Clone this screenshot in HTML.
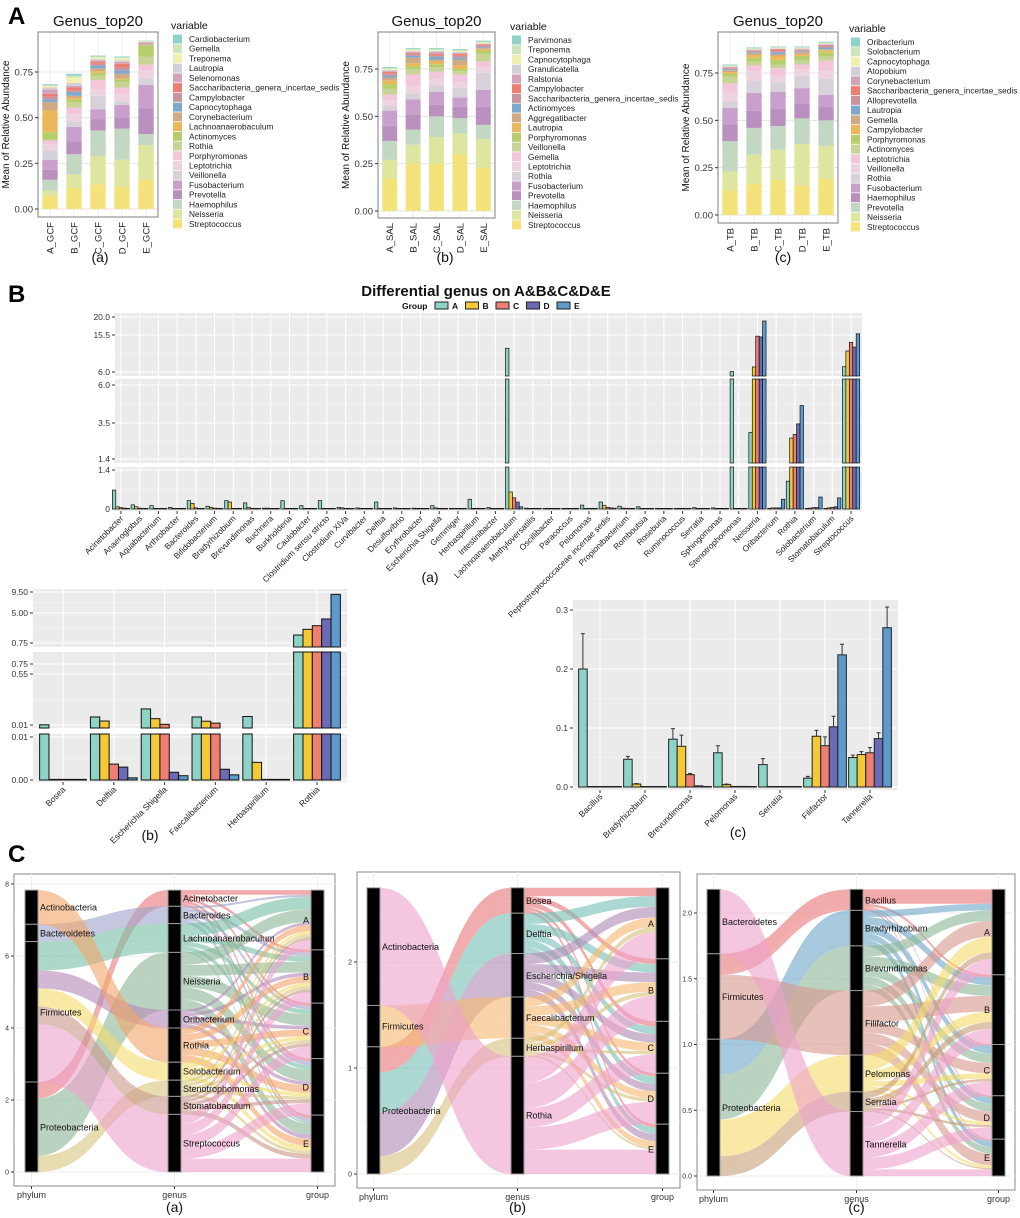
<!DOCTYPE html>
<html><head><meta charset="utf-8"><style>
html,body{margin:0;padding:0;background:#fff;}
svg{display:block;font-family:"Liberation Sans",Arial,sans-serif;}
</style></head><body>
<svg id="fig" width="1020" height="1218" viewBox="0 0 1020 1218" xmlns="http://www.w3.org/2000/svg">
<text x="8" y="24" font-size="24" font-weight="bold">A</text>
<text x="8" y="302" font-size="24" font-weight="bold">B</text>
<text x="8" y="862" font-size="24" font-weight="bold">C</text>
</svg>
<script>
// ---------- Panel A data ----------
const aPalette=['#F4E27A','#DDE59E','#C2D8C2','#B990BE','#C9A0CB','#D7D2DA','#EDD3DF','#F4C6DA','#C8D397','#B5CD6A','#EBB75B','#CFAA85','#7FA8CE','#C8959F','#EC7E74','#D3A3B8','#D3CFD6','#F1F0B0','#CDE5B8','#8FD3C8'];
const aGenera1=['Streptococcus','Neisseria','Haemophilus','Prevotella','Fusobacterium','Veillonella','Leptotrichia','Porphyromonas','Rothia','Actinomyces','Lachnoanaerobaculum','Corynebacterium','Capnocytophaga','Campylobacter','Saccharibacteria_genera_incertae_sedis','Selenomonas','Lautropia','Treponema','Gemella','Cardiobacterium'];
const aGenera2=['Streptococcus','Neisseria','Haemophilus','Prevotella','Fusobacterium','Rothia','Leptotrichia','Gemella','Veillonella','Porphyromonas','Lautropia','Aggregatibacter','Actinomyces','Saccharibacteria_genera_incertae_sedis','Campylobacter','Ralstonia','Granulicatella','Capnocytophaga','Treponema','Parvimonas'];
const aGenera3=['Streptococcus','Neisseria','Prevotella','Haemophilus','Fusobacterium','Rothia','Veillonella','Leptotrichia','Actinomyces','Porphyromonas','Campylobacter','Gemella','Lautropia','Alloprevotella','Saccharibacteria_genera_incertae_sedis','Corynebacterium','Atopobium','Capnocytophaga','Solobacterium','Oribacterium'];
const aSamples1=['A_GCF','B_GCF','C_GCF','D_GCF','E_GCF'];
const aSamples2=['A_SAL','B_SAL','C_SAL','D_SAL','E_SAL'];
const aSamples3=['A_TB','B_TB','C_TB','D_TB','E_TB'];
// cumulative stacked tops (bottom genus first)
const aCum1=[
[.072,.10,.16,.215,.27,.32,.355,.375,.38,.42,.54,.585,.60,.615,.63,.655,.665,.672,.677,.683],
[.115,.19,.30,.37,.45,.48,.52,.555,.585,.60,.61,.62,.64,.65,.665,.675,.69,.72,.73,.74],
[.135,.29,.43,.49,.545,.62,.655,.705,.73,.745,.755,.77,.785,.795,.805,.815,.82,.83,.835,.84],
[.12,.27,.44,.50,.57,.59,.63,.665,.695,.71,.715,.74,.76,.775,.795,.805,.815,.825,.83,.835],
[.16,.35,.41,.55,.68,.715,.76,.79,.835,.895,.897,.90,.902,.905,.908,.913,.915,.917,.92,.922]];
const aCum2=[
[.17,.27,.37,.45,.53,.555,.585,.615,.645,.67,.69,.705,.715,.725,.735,.74,.745,.75,.755,.76],
[.25,.35,.43,.51,.59,.62,.66,.72,.75,.765,.78,.81,.82,.83,.835,.84,.845,.85,.855,.86],
[.25,.39,.50,.56,.63,.665,.70,.735,.76,.775,.79,.80,.815,.82,.83,.84,.845,.85,.855,.86],
[.30,.41,.49,.55,.60,.65,.68,.72,.74,.75,.77,.80,.81,.82,.83,.835,.84,.845,.85,.855],
[.23,.38,.455,.55,.64,.73,.76,.79,.83,.845,.855,.86,.865,.875,.88,.883,.886,.89,.895,.90]];
const aCum3=[
[.13,.23,.39,.48,.565,.60,.65,.695,.73,.745,.755,.765,.77,.775,.778,.782,.785,.788,.79,.795],
[.165,.32,.46,.55,.645,.71,.76,.79,.81,.83,.845,.855,.86,.865,.868,.872,.875,.878,.88,.885],
[.185,.345,.47,.56,.65,.70,.735,.775,.795,.82,.84,.85,.86,.865,.875,.878,.88,.883,.886,.89],
[.155,.375,.51,.59,.67,.735,.77,.795,.815,.84,.85,.86,.865,.87,.873,.876,.88,.883,.886,.89],
[.19,.365,.50,.57,.635,.72,.76,.815,.84,.86,.87,.875,.885,.89,.895,.90,.903,.906,.91,.915]];
const aTicks=[0,0.25,0.5,0.75];
const aTickLabels=['0.00','0.25','0.50','0.75'];

// ---------- Panel B data ----------
const bGroups=['A','B','C','D','E'];
const bColors=['#8DD3C7','#F5C935','#EF7F71','#6B6BB5','#5C9BCB'];
const bCats=['Acinetobacter','Anaeroglobus','Aquabacterium','Arthrobacter','Bacteroides','Bifidobacterium','Bradyrhizobium','Brevundimonas','Buchnera','Burkholderia','Caulobacter','Clostridium sensu stricto','Clostridium XIVa','Curvibacter','Delftia','Desulfovibrio','Erythrobacter','Escherichia Shigella','Gemmiger','Herbaspirillum','Intestinibacter','Lachnoanaerobaculum','Methyloversatilis','Oscillibacter','Paracoccus','Pelomonas','Peptostreptococcaceae incertae sedis','Propionibacterium','Romboutsia','Roseburia','Ruminococcus','Serratia','Sphingomonas','Stenotrophomonas','Neisseria','Oribacterium','Rothia','Solobacterium','Stomatobaculum','Streptococcus'];
const bValA=[.68,.15,.12,.06,.30,.10,.30,.22,.03,.30,.12,.30,.06,.04,.25,.04,.03,.12,.02,.35,.05,12.1,.03,.02,.02,.14,.25,.10,.08,.02,.02,.05,.04,6.1,2.95,.02,1.0,.02,.02,7.35];
const bValB=[.08,.08,.01,.02,.20,.06,.25,.06,.03,.01,.01,.02,.04,.01,.01,.02,.01,.04,.02,.01,.02,.61,.02,.01,.01,.01,.12,.03,.02,.02,.02,.01,.02,.01,7.3,.04,2.62,.03,.04,11.4];
const bValC=[.05,.03,.01,.01,.04,.03,.02,.02,.01,.01,.01,.01,.02,.01,.01,.01,.01,.01,.02,.01,.01,.40,.01,.01,.01,.01,.06,.01,.01,.01,.02,.01,.01,.01,15.2,.04,2.83,.05,.06,13.6];
const bValD=[.03,.02,.01,.01,.02,.02,.01,.01,.01,.01,.01,.01,.01,.01,.01,.01,.01,.01,.02,.01,.01,.25,.01,.01,.01,.01,.04,.01,.01,.01,.01,.01,.01,.01,15.0,.04,3.45,.05,.08,12.4];
const bValE=[.02,.01,.01,.01,.02,.01,.01,.01,.01,.01,.01,.01,.01,.01,.01,.01,.01,.01,.02,.01,.01,.08,.01,.01,.01,.01,.03,.01,.01,.01,.01,.01,.01,.01,19.0,.35,4.65,.43,.40,15.8];

const b2Cats=['Bosea','Delftia','Escherichia Shigella','Faecalibacterium','Herbaspirillum','Rothia'];
const b2ValA=[.012,.095,.18,.095,.10,1.88];
const b2ValB=[.0001,.052,.077,.05,.0041,2.69];
const b2ValC=[.0001,.0037,.017,.03,.00005,3.2];
const b2ValD=[.0001,.003,.0018,.0025,.00005,4.15];
const b2ValE=[.00005,.0005,.001,.0012,.00005,9.0];

const b3Cats=['Bacillus','Bradyrhizobium','Brevundimonas','Pelomonas','Serratia','Filifactor','Tannerella'];
const b3ValA=[.20,.047,.081,.058,.038,.015,.050];
const b3ValB=[0,.005,.069,.004,0,.086,.055];
const b3ValC=[0,0,.021,.001,0,.070,.058];
const b3ValD=[0,0,.002,.001,0,.102,.082];
const b3ValE=[0,0,0,0,0,.224,.270];
const b3ErrA=[.06,.005,.018,.012,.010,.003,.004];
const b3ErrB=[0,.001,.019,.001,0,.010,.005];
const b3ErrC=[0,0,.002,0,0,.015,.009];
const b3ErrD=[0,0,0,0,0,.018,.010];
const b3ErrE=[0,0,0,0,0,.018,.035];
const b3Ticks=[0,0.1,0.2,0.3];
const b3TickLabels=['0.0','0.1','0.2','0.3'];

// ---------- Panel C data ----------
const cPhyla1=['Actinobacteria','Bacteroidetes','Firmicutes','Proteobacteria'];
const cGenera1=['Acinetobacter','Bacteroides','Lachnoanaerobaculum','Neisseria','Oribacterium','Rothia','Solobacterium','Stenotrophomonas','Stomatobaculum','Streptococcus'];
const cGenusPhylum1=[3,1,2,3,2,0,2,3,2,2];
const cGenusColor1=['#E8787A','#9FA4CB','#79C0A8','#8FB89A','#B58AB8','#F2A66B','#F4DC6E','#D9C77E','#C99A8E','#EDA3CB'];
const cFlow1=[[.13,.08,.08,.08,.08],[.06,.10,.10,.11,.11],[.35,.15,.13,.12,.05],[.35,.30,.32,.33,.30],[.08,.10,.10,.10,.12],[.17,.18,.19,.21,.20],[.08,.09,.10,.10,.13],[.09,.09,.09,.09,.09],[.08,.09,.10,.10,.13],[.27,.30,.33,.33,.37]];
const cTicks1=[0,2,4,6,8];
const cTickLabels1=['0','2','4','6','8'];

const cPhyla2=['Actinobacteria','Firmicutes','Proteobacteria'];
const cGenera2=['Bosea','Delftia','Escherichia/Shigella','Faecalibacterium','Herbaspirillum','Rothia'];
const cGenusPhylum2=[2,2,2,1,2,0];
const cGenusColor2=['#E8787A','#79C0B8','#B08AB5','#F6BA72','#D9C27E','#EDA3CB'];
const cFlow2=[[.08,.05,.05,.03,.03],[.10,.08,.07,.07,.06],[.10,.09,.08,.07,.07],[.09,.09,.08,.07,.06],[.05,.04,.03,.03,.02],[.25,.24,.18,.21,.23]];
const cTicks2=[0,1,2];
const cTickLabels2=['0','1','2'];

const cPhyla3=['Bacteroidetes','Firmicutes','Proteobacteria'];
const cGenera3=['Bacillus','Bradyrhizobium','Brevundimonas','Filifactor','Pelomonas','Serratia','Tannerella'];
const cGenusPhylum3=[1,2,2,1,2,2,0];
const cGenusColor3=['#E8787A','#6FA8C8','#8FB89A','#D99A90','#F4DC6E','#C8A07A','#EDA3CB'];
const cFlow3=[[.11,.02,.01,.01,.01],[.05,.06,.06,.05,.05],[.08,.08,.07,.06,.05],[.12,.12,.08,.08,.09],[.12,.08,.04,.02,.02],[.05,.05,.02,.02,.01],[.12,.12,.11,.09,.05]];
const cTicks3=[0,0.5,1,1.5,2];
const cTickLabels3=['0.0','0.5','1.0','1.5','2.0'];

// ---------- helpers ----------
const NS='http://www.w3.org/2000/svg';
const svg=document.getElementById('fig');
function mk(tag,attrs,parent){const e=document.createElementNS(NS,tag);for(const k in attrs)e.setAttribute(k,attrs[k]);(parent||svg).appendChild(e);return e;}
function tx(s,attrs,parent){const e=mk('text',attrs,parent);e.textContent=s;return e;}
function interp(v,ticks,ys){let i=0;while(i<ticks.length-2&&v>ticks[i+1])i++;const t0=ticks[i],t1=ticks[i+1];return ys[i]+(v-t0)/(t1-t0)*(ys[i+1]-ys[i]);}

// ---------- Panel A ----------
function drawA(cfg,genera,samples,cum,tag){
  const g=mk('g',{});
  
  
  const ys=v=>cfg.zeroY+(cfg.y75-cfg.zeroY)*v/0.75;
  mk('rect',{x:cfg.x0,y:cfg.y0,width:cfg.x1-cfg.x0,height:cfg.y1-cfg.y0,fill:'#fff'},g);
  for(let k=0;k<7;k++){const v=k*0.125;const y=ys(v);mk('line',{x1:cfg.x0,x2:cfg.x1,y1:y,y2:y,stroke:k%2?'#F3F3F3':'#E5E5E5','stroke-width':k%2?0.6:1},g);}
  const step=(cfg.x1-cfg.x0)/samples.length;
  samples.forEach((s,i)=>{const cx=cfg.x0+(i+0.5)*step;mk('line',{x1:cx,x2:cx,y1:cfg.y0,y2:cfg.y1,stroke:'#EEEEEE','stroke-width':1},g);});
  samples.forEach((s,i)=>{
    const cx=cfg.x0+(i+0.5)*step;const bw=step*0.64;let prev=0;
    cum[i].forEach((top,j)=>{
      const r=mk('rect',{x:cx-bw/2,y:ys(top),width:bw,height:Math.max(0,ys(prev)-ys(top)),fill:aPalette[j]},g);
      
      
      prev=top;});
    const t=tx(s,{x:0,y:0,'font-size':9.5,'text-anchor':'end',fill:'#222',transform:`translate(${cx+3.5},${cfg.y1+5}) rotate(-90)`},g);
    
    
  });
  mk('rect',{x:cfg.x0,y:cfg.y0,width:cfg.x1-cfg.x0,height:cfg.y1-cfg.y0,fill:'none',stroke:'#7F7F7F','stroke-width':1},g);
  aTicks.forEach((v,k)=>{const y=ys(v);mk('line',{x1:cfg.x0-3,x2:cfg.x0,y1:y,y2:y,stroke:'#333'},g);
    const t=tx(aTickLabels[k],{x:cfg.x0-5,y:y+3.5,'font-size':9.5,'text-anchor':'end',fill:'#333'},g);
    
    });
  const yt=tx('Mean of Relative Abundance',{x:0,y:0,'font-size':10,'text-anchor':'middle',fill:'#111',transform:`translate(${cfg.x0-29},${(cfg.y0+cfg.y1)/2}) rotate(-90)`},g);
  
  
  const tt=tx('Genus_top20',{x:(cfg.x0+cfg.x1)/2,y:cfg.y0-6,'font-size':15,'text-anchor':'middle',fill:'#111'},g);
  
  
  const lt=tx('variable',{x:cfg.lx,y:cfg.ly-10,'font-size':10.5,fill:'#111'},g);
  
  
  for(let j=19;j>=0;j--){const row=19-j;const y=cfg.ly+row*9.73;
    const sw=mk('rect',{x:cfg.lx+2,y:y-4.5,width:9,height:9,fill:aPalette[j]},g);
    
    
    const lb=tx(genera[j],{x:cfg.lx+18,y:y+3,'font-size':8.3,fill:'#222'},g);
    
    }
  const sl=tx(cfg.sub,{x:cfg.subx,y:262,'font-size':14,'text-anchor':'middle',fill:'#111'},g);
  
  
}
drawA({x0:38,x1:158,y0:32,y1:217,zeroY:209,y75:72,lx:171,ly:39,sub:'(a)',subx:100},aGenera1,aSamples1,aCum1,'gcf');
drawA({x0:378,x1:495,y0:32,y1:218,zeroY:211,y75:69,lx:510,ly:40,sub:'(b)',subx:445},aGenera2,aSamples2,aCum2,'sal');
drawA({x0:718,x1:838,y0:32,y1:223,zeroY:215,y75:73,lx:849,ly:42,sub:'(c)',subx:783},aGenera3,aSamples3,aCum3,'tb');

// ---------- Panel B ----------
const bt=tx('Differential genus on A&B&C&D&E',{x:486,y:296,'font-size':15,'font-weight':'bold','text-anchor':'middle',fill:'#111'});


const lg=tx('Group',{x:402,y:309,'font-size':8.5,'font-weight':'bold',fill:'#111'});


bGroups.forEach((gname,i)=>{const x=435+i*30.5;
  const s=mk('rect',{x:x,y:302,width:13,height:7,fill:bColors[i],stroke:'#222','stroke-width':1});
  
  
  const l=tx(gname,{x:x+17,y:309,'font-size':8.5,'font-weight':'bold',fill:'#111'});
  
  });

function drawBroken(cfg,cats,vals,tag){
  const g=mk('g',{});
  
  
  const n=cats.length;const step=(cfg.xr-cfg.xl)/n;const bw=step*cfg.fill/5;
  cfg.segs.forEach(sg=>{
    mk('rect',{x:cfg.x0,y:sg.top,width:cfg.x1-cfg.x0,height:sg.bot-sg.top,fill:'#EBEBEB'},g);
    for(let k=0;k<sg.ticks.length-1;k++){const y=(sg.ys[k]+sg.ys[k+1])/2;mk('line',{x1:cfg.x0,x2:cfg.x1,y1:y,y2:y,stroke:'#F7F7F7','stroke-width':0.6},g);}
    sg.ticks.forEach((v,k)=>{const y=sg.ys[k];mk('line',{x1:cfg.x0,x2:cfg.x1,y1:y,y2:y,stroke:'#fff','stroke-width':1.1},g);
      mk('line',{x1:cfg.x0-3,x2:cfg.x0,y1:y,y2:y,stroke:'#333'},g);
      const t=tx(sg.labels[k],{x:cfg.x0-5,y:y+3,'font-size':8.5,'text-anchor':'end',fill:'#333'},g);
      
      });
    cats.forEach((c,i)=>{const cx=cfg.xl+(i+0.5)*step;mk('line',{x1:cx,x2:cx,y1:sg.top,y2:sg.bot,stroke:'#fff','stroke-width':1.1},g);});
  });
  cats.forEach((c,i)=>{const cx=cfg.xl+(i+0.5)*step;
    vals.forEach((arr,gi)=>{const v=arr[i];const x=cx+(gi-2.5)*bw;
      cfg.segs.forEach((sg,si)=>{
        if(si>0&&v<=sg.lo)return; if(si===0&&v<=0)return;
        const base=si===0?interp(0,sg.ticks,sg.ys):sg.bot;
        const topY=v>=sg.hi?sg.top:interp(v,sg.ticks,sg.ys);
        const h=Math.max(0.6,base-topY);
        const r=mk('rect',{x:x,y:base-h,width:bw,height:h,fill:bColors[gi],stroke:'#111','stroke-width':cfg.sw},g);
        
        
      });});
    const lx=cx,ly=cfg.labY;
    mk('line',{x1:cx,x2:cx,y1:cfg.segs[0].bot,y2:cfg.segs[0].bot+3,stroke:'#333'},g);
    const t=tx(c,{x:0,y:0,'font-size':cfg.fs,'text-anchor':'end',fill:'#222',transform:`translate(${lx+3},${ly}) rotate(-45)`},g);
    
    
  });
}
drawBroken({x0:115,x1:862,xl:111.6,xr:860.4,fill:0.92,sw:0.7,labY:519,fs:8.3,
  segs:[{lo:0,hi:1.4,ticks:[0,1.4],ys:[509,470],labels:['0','1.4'],top:467,bot:511},
        {lo:1.4,hi:6,ticks:[1.4,3.5,6],ys:[459,423,385],labels:['1.4','3.5','6.0'],top:379,bot:463},
        {lo:6,hi:20.5,ticks:[6,15.5,20],ys:[372,335,317],labels:['6.0','15.5','20.0'],top:313,bot:376}]},
  bCats,[bValA,bValB,bValC,bValD,bValE],'a');
const sa=tx('(a)',{x:430,y:582,'font-size':14,'text-anchor':'middle',fill:'#111'});



drawBroken({x0:33,x1:347,xl:37.6,xr:342.4,fill:0.92,sw:1,labY:790,fs:8.5,
  segs:[{lo:0,hi:0.01,ticks:[0,0.01],ys:[780,737],labels:['0.00','0.01'],top:734,bot:782},
        {lo:0.01,hi:0.8,ticks:[0.01,0.55,0.75],ys:[725,674,664],labels:['0.01','0.55','0.75'],top:652,bot:728},
        {lo:0.75,hi:12,ticks:[0.75,5,9.5],ys:[643,613,592],labels:['0.75','5.00','9.50'],top:589,bot:647}]},
  b2Cats,[b2ValA,b2ValB,b2ValC,b2ValD,b2ValE],'b');
const sb=tx('(b)',{x:150,y:840,'font-size':14,'text-anchor':'middle',fill:'#111'});



(function(){
  const g=mk('g',{});
  
  
  const x0=573,x1=898,yz=787,y3=610;const ys=v=>yz+(y3-yz)*v/0.3;
  mk('rect',{x:x0,y:600,width:x1-x0,height:190,fill:'#EBEBEB'},g);
  for(let k=0;k<3;k++){const y=ys(k*0.1+0.05);mk('line',{x1:x0,x2:x1,y1:y,y2:y,stroke:'#F7F7F7','stroke-width':0.6},g);}
  b3Ticks.forEach((v,k)=>{const y=ys(v);mk('line',{x1:x0,x2:x1,y1:y,y2:y,stroke:'#fff','stroke-width':1.1},g);
    mk('line',{x1:x0-3,x2:x0,y1:y,y2:y,stroke:'#333'},g);
    const t=tx(b3TickLabels[k],{x:x0-5,y:y+3,'font-size':8.5,'text-anchor':'end',fill:'#333'},g);
    
    });
  const xl=577.5,xr=892.5;const step=(xr-xl)/b3Cats.length;const bw=step*0.95/5;
  const vals=[b3ValA,b3ValB,b3ValC,b3ValD,b3ValE];const errs=[b3ErrA,b3ErrB,b3ErrC,b3ErrD,b3ErrE];
  b3Cats.forEach((c,i)=>{const cx=xl+(i+0.5)*step;mk('line',{x1:cx,x2:cx,y1:600,y2:790,stroke:'#fff','stroke-width':1.1},g);});
  b3Cats.forEach((c,i)=>{const cx=xl+(i+0.5)*step;
    vals.forEach((arr,gi)=>{const v=arr[i];const x=cx+(gi-2.5)*bw;
      const h=Math.max(0.5,yz-ys(v));
      const r=mk('rect',{x:x,y:yz-h,width:bw,height:h,fill:bColors[gi],stroke:'#222','stroke-width':1},g);
      
      
      const e=errs[gi][i];
      if(e>0){const ey=ys(v+e);const xc=x+bw/2;
        const eb=mk('path',{d:`M${xc},${ys(v)}V${ey}M${xc-2},${ey}H${xc+2}`,stroke:'#333','stroke-width':1,fill:'none'},g);
        
        }
    });
    mk('line',{x1:cx,x2:cx,y1:790,y2:793,stroke:'#333'},g);
    const t=tx(c,{x:0,y:0,'font-size':8.5,'text-anchor':'end',fill:'#222',transform:`translate(${cx+3},${797}) rotate(-45)`},g);
    
    });
  const s=tx('(c)',{x:738,y:837,'font-size':14,'text-anchor':'middle',fill:'#111'},g);
  
  
})();

// ---------- Panel C ----------
function drawAlluvial(cfg,phyla,genera,gph,gcol,flow,ticks,tickLabels,tag){
  const g=mk('g',{});
  
  
  const ys=v=>cfg.zeroY-v*cfg.ppu;
  mk('rect',{x:cfg.bx0,y:cfg.by0,width:cfg.bx1-cfg.bx0,height:cfg.by1-cfg.by0,fill:'#fff',stroke:'#8A8A8A','stroke-width':1},g);
  ticks.forEach((v,k)=>{const y=ys(v);mk('line',{x1:cfg.bx0,x2:cfg.bx1,y1:y,y2:y,stroke:'#EDEDED','stroke-width':1},g);
    if(k<ticks.length-1){const y2=ys((v+ticks[k+1])/2);mk('line',{x1:cfg.bx0,x2:cfg.bx1,y1:y2,y2:y2,stroke:'#F6F6F6','stroke-width':0.6},g);}
    mk('line',{x1:cfg.bx0-3,x2:cfg.bx0,y1:y,y2:y,stroke:'#333'},g);
    const t=tx(tickLabels[k],{x:cfg.bx0-5,y:y+2.5,'font-size':7,'text-anchor':'end',fill:'#333'},g);
    
    });
  cfg.ax.forEach(x=>{mk('line',{x1:x+6.5,x2:x+6.5,y1:cfg.by0,y2:cfg.by1,stroke:'#F0F0F0'},g);});
  const W=13;const total=flow.reduce((s,r)=>s+r.reduce((a,b)=>a+b,0),0);
  // genus lodes
  const gLode={};let cur=total;
  genera.forEach((gn,i)=>{flow[i].forEach((v,k)=>{gLode[i+'_'+k]={top:cur,bot:cur-v};cur-=v;});});
  const gStrata=[];cur=total;genera.forEach((gn,i)=>{const s=flow[i].reduce((a,b)=>a+b,0);gStrata.push([cur,cur-s]);cur-=s;});
  // phylum lodes
  const pLode={};const pStrata=[];cur=total;
  phyla.forEach((p,pi)=>{const st=cur;genera.forEach((gn,i)=>{if(gph[i]!==pi)return;flow[i].forEach((v,k)=>{pLode[i+'_'+k]={top:cur,bot:cur-v};cur-=v;});});pStrata.push([st,cur]);});
  // group lodes
  const grLode={};const grStrata=[];cur=total;
  for(let k=0;k<5;k++){const st=cur;genera.forEach((gn,i)=>{const v=flow[i][k];grLode[i+'_'+k]={top:cur,bot:cur-v};cur-=v;});grStrata.push([st,cur]);}
  function ribbon(xa,a,xb,b,col){const x1=xa+W,x2=xb,m=(x1+x2)/2;
    const d=`M${x1},${ys(a.top)}C${m},${ys(a.top)} ${m},${ys(b.top)} ${x2},${ys(b.top)}L${x2},${ys(b.bot)}C${m},${ys(b.bot)} ${m},${ys(a.bot)} ${x1},${ys(a.bot)}Z`;
    const p=mk('path',{d:d,fill:col,'fill-opacity':0.62,stroke:'none'},g);
    
    }
  genera.forEach((gn,i)=>{for(let k=0;k<5;k++){ribbon(cfg.ax[0],pLode[i+'_'+k],cfg.ax[1],gLode[i+'_'+k],gcol[i]);}});
  genera.forEach((gn,i)=>{for(let k=0;k<5;k++){ribbon(cfg.ax[1],gLode[i+'_'+k],cfg.ax[2],grLode[i+'_'+k],gcol[i]);}});
  function strata(x,list,names,anchor,dx,nm){list.forEach((s,i)=>{
    const r=mk('rect',{x:x,y:ys(s[0]),width:W,height:ys(s[1])-ys(s[0]),fill:'#000',stroke:'#9A9A9A','stroke-width':1},g);
    
    
    const t=tx(names[i],{x:anchor==='end'?x-2:x+W+2,y:ys((s[0]+s[1])/2)+3.5,'font-size':cfg.fs,'text-anchor':anchor,fill:'#111'},g);
    
    });}
  strata(cfg.ax[0],pStrata,phyla,'start',0,'phylum');
  strata(cfg.ax[1],gStrata,genera,'start',0,'genus');
  strata(cfg.ax[2],grStrata,bGroups,'end',0,'group');
  ['phylum','genus','group'].forEach((a,i)=>{
    mk('line',{x1:cfg.ax[i]+6.5,x2:cfg.ax[i]+6.5,y1:cfg.by1,y2:cfg.by1+3,stroke:'#333'},g);
    const t=tx(a,{x:cfg.ax[i]+6.5,y:cfg.by1+12,'font-size':9,'text-anchor':'middle',fill:'#333'},g);
    
    });
  const s=tx(cfg.sub,{x:cfg.ax[1]+6.5,y:1212,'font-size':14,'text-anchor':'middle',fill:'#111'},g);
  
  
}
drawAlluvial({bx0:14,bx1:335,by0:874,by1:1186,zeroY:1172,ppu:36,ax:[25,168,311],fs:9,sub:'(a)'},cPhyla1,cGenera1,cGenusPhylum1,cGenusColor1,cFlow1,cTicks1,cTickLabels1,'a');
drawAlluvial({bx0:357,bx1:680,by0:872,by1:1188,zeroY:1174,ppu:106,ax:[367,511,656],fs:9,sub:'(b)'},cPhyla2,cGenera2,cGenusPhylum2,cGenusColor2,cFlow2,cTicks2,cTickLabels2,'b');
drawAlluvial({bx0:697,bx1:1015,by0:874,by1:1190,zeroY:1176,ppu:131.5,ax:[707,850,992],fs:9,sub:'(c)'},cPhyla3,cGenera3,cGenusPhylum3,cGenusColor3,cFlow3,cTicks3,cTickLabels3,'c');
</script>
</body></html>
